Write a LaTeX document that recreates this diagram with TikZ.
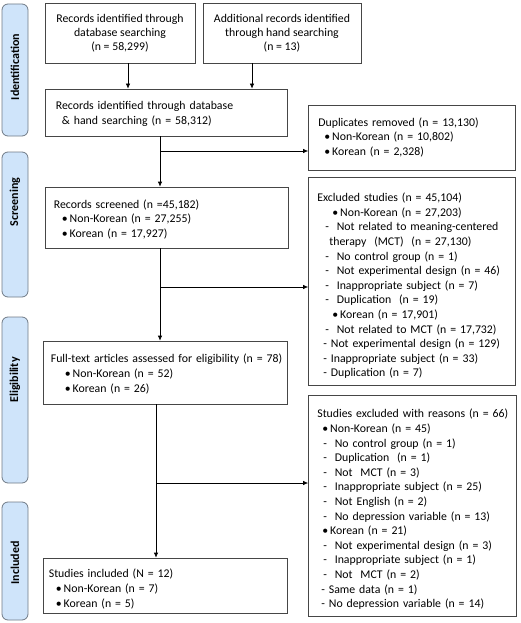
\documentclass[tikz,border=0pt]{standalone}
\usepackage{fontspec}
\setmainfont{Carlito}
\usepackage{tikz}
\usetikzlibrary{arrows.meta}
\definecolor{phasefill}{RGB}{207,228,250}
\definecolor{phaseline}{RGB}{112,122,134}
\definecolor{boxline}{RGB}{70,70,70}
\newcommand{\pushin}[1]{\leavevmode\hbox to #1{\hfil}}
\newcommand{\bul}[1]{\leavevmode\hbox to #1{\hfil}\textbullet\hspace{2pt}}
\newcommand{\dsh}[1]{\leavevmode\hbox to #1{\hfil}-\ \ }

\begin{document}
\begin{tikzpicture}[x=1pt, y=-1pt,
    box/.style={draw=boxline, line width=0.7pt, inner sep=0pt},
    txt/.style={inner sep=0pt, text width=232pt, align=left, anchor=west,
        font=\fontsize{11.8}{14.6}\selectfont},
    phase/.style={draw=phaseline, fill=phasefill, line width=0.8pt,
        rounded corners=6pt, minimum width=26pt},
    phasetxt/.style={rotate=90, font=\bfseries\fontsize{12}{13}\selectfont},
    arr/.style={-{Latex[length=5pt,width=4.5pt]}, line width=0.7pt}]
    \useasboundingbox (0,0) rectangle (521,623);
    % phase labels
    \node [phase, minimum height=132pt] (ph1) at (15,70) {};
    \node [phasetxt] (t1) at (15,67) {Identification};
    \node [phase, minimum height=145pt] (ph2) at (15,224.5) {};
    \node [phasetxt] (t2) at (15,202) {Screening};
    \node [phase, minimum height=166pt] (ph3) at (15,400) {};
    \node [phasetxt] (t3) at (15,380) {Eligibility};
    \node [phase, minimum height=118pt] (ph4) at (15,561) {};
    \node [phasetxt] (t4) at (15,563) {Included};
    % identification boxes
    \node [box, minimum width=150pt, minimum height=60pt, align=center,
        font=\fontsize{11.8}{14.2}\selectfont] (b1) at (120,33)
        {Records identified through\\database searching\\(n = 58,299)};
    \node [box, minimum width=158pt, minimum height=60pt, align=center,
        font=\fontsize{11.8}{14.2}\selectfont] (b2) at (282,33)
        {Additional records identified\\through hand searching\\(n = 13)};
    \node [box, minimum width=242pt, minimum height=47pt] (b3) at (166,112.5) {};
    \node [txt] (b3t) at ([xshift=11pt, yshift=-1.5pt]b3.west)
        {Records identified through database\\\pushin{6pt}\& hand searching (n = 58,312)};
    % left column
    \node [box, minimum width=243pt, minimum height=61pt] (scr) at (166.5,217.5) {};
    \node [txt] (scrt) at ([xshift=9pt, yshift=-2pt]scr.west)
        {Records screened (n =45,182)\\\bul{8pt}Non-Korean (n = 27,255)\\\bul{8pt}Korean (n = 17,927)};
    \node [box, minimum width=244pt, minimum height=63pt] (full) at (165,372.5) {};
    \node [txt] (fullt) at ([xshift=8pt, yshift=-1.5pt]full.west)
        {Full-text articles assessed for eligibility (n = 78)\\\bul{14pt}Non-Korean (n = 52)\\\bul{14pt}Korean (n = 26)};
    \node [box, minimum width=244pt, minimum height=55pt] (incl) at (165,585.5) {};
    \node [txt] (inclt) at ([xshift=6pt, yshift=-3.5pt]incl.west)
        {Studies included (N = 12)\\\bul{7pt}Non-Korean (n = 7)\\\bul{7pt}Korean (n = 5)};
    % right column
    \node [box, minimum width=207pt, minimum height=65pt] (dup) at (412,137.5) {};
    \node [txt] (dupt) at ([xshift=10pt]dup.west)
        {Duplicates removed (n = 13,130)\\\bul{6pt}Non-Korean (n = 10,802)\\\bul{6pt}Korean (n = 2,328)};
    \node [box, minimum width=207pt, minimum height=208pt] (excl) at (412,281) {};
    \node [txt] (exclt) at ([xshift=9pt, yshift=-5pt]excl.west)
        {Excluded studies (n = 45,104)\\
        \bul{15pt}Non-Korean (n = 27,203)\\
        \dsh{8pt}Not related to meaning-centered\\
        \pushin{12pt}therapy\ \ (MCT)\ \ (n = 27,130)\\
        \dsh{8pt}No control group (n = 1)\\
        \dsh{8pt}Not experimental design (n = 46)\\
        \dsh{8pt}Inappropriate subject (n = 7)\\
        \dsh{8pt}Duplication\ \ (n = 19)\\
        \bul{15pt}Korean (n = 17,901)\\
        \dsh{8pt}Not related to MCT (n = 17,732)\\
        \pushin{6pt}- Not experimental design (n = 129)\\
        \pushin{6pt}- Inappropriate subject (n = 33)\\
        \pushin{6pt}- Duplication (n = 7)};
    \node [box, minimum width=208pt, minimum height=221pt] (excl2) at (412.5,505.5) {};
    \node [txt] (excl2t) at ([xshift=9pt, yshift=-4pt]excl2.west)
        {Studies excluded with reasons (n = 66)\\
        \bul{5pt}Non-Korean (n = 45)\\
        \dsh{6pt}No control group (n = 1)\\
        \dsh{6pt}Duplication\ \ (n = 1)\\
        \dsh{6pt}Not\ \ MCT (n = 3)\\
        \dsh{6pt}Inappropriate subject (n = 25)\\
        \dsh{6pt}Not English (n = 2)\\
        \dsh{6pt}No depression variable (n = 13)\\
        \bul{5pt}Korean (n = 21)\\
        \dsh{6pt}Not experimental design (n = 3)\\
        \dsh{6pt}Inappropriate subject (n = 1)\\
        \dsh{6pt}Not\ \ MCT (n = 2)\\
        \pushin{4pt}- Same data (n = 1)\\
        \pushin{4pt}- No depression variable (n = 14)};
    % connectors
    \coordinate (j1) at (160,151);
    \coordinate (j2) at (160,287);
    \coordinate (j3) at (156,483);
    \draw [arr] ([xshift=8pt]b1.south) -- ([xshift=8pt]b1.south |- b3.north);
    \draw [arr] ([xshift=-30pt]b2.south) -- ([xshift=-30pt]b2.south |- b3.north);
    \draw [arr] (b3.south -| j1) -- (scr.north -| j1);
    \draw [arr] (j1) -- (j1 -| dup.west);
    \draw [arr] (scr.south -| j2) -- (full.north -| j2);
    \draw [arr] (j2) -- (j2 -| excl.west);
    \draw [arr] (full.south -| j3) -- (incl.north -| j3);
    \draw [arr] (j3) -- (j3 -| excl2.west);
\end{tikzpicture}
\end{document}
